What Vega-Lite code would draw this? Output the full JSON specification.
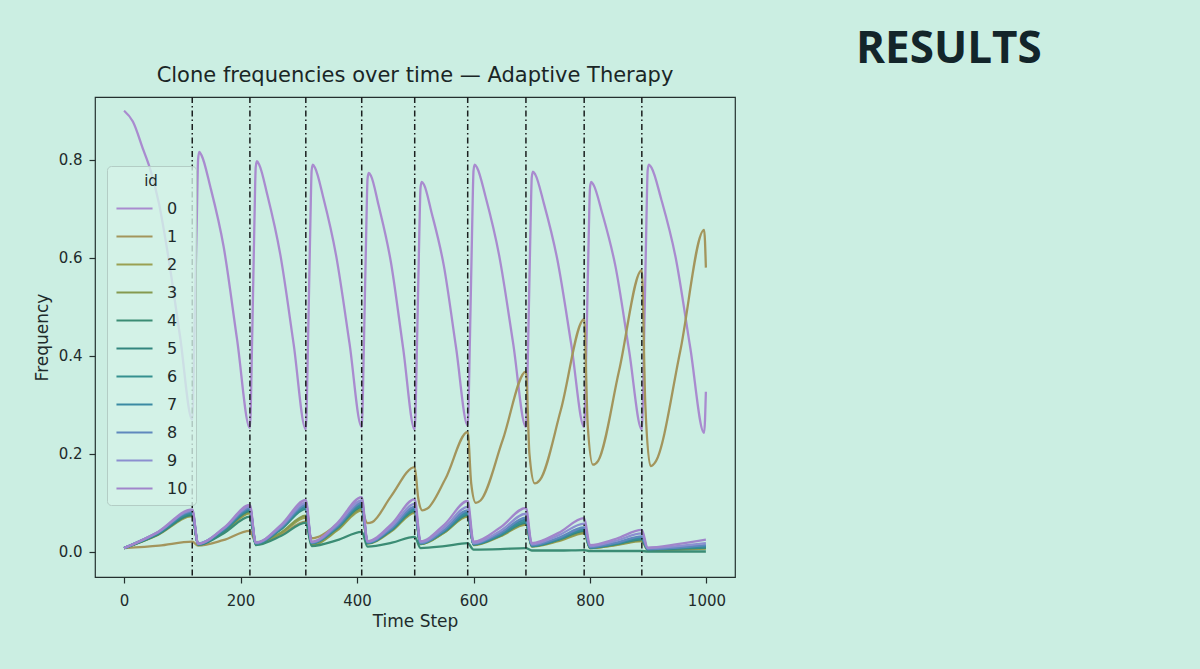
{
  "$schema": "https://vega.github.io/schema/vega-lite/v6.json",
  "description": "Clone frequencies over time under adaptive therapy, slide photo recreation",
  "background": "#cbeee2",
  "padding": {"left": 32, "top": 28, "right": 154, "bottom": 39},
  "spacing": 120,
  "config": {
    "font": "DejaVu Sans",
    "view": {"stroke": "#24302f", "strokeWidth": 1.2},
    "axis": {
      "domain": false, "grid": false,
      "tickColor": "#24302f", "tickSize": 6, "tickWidth": 1.2,
      "labelFont": "DejaVu Sans", "labelFontSize": 15, "labelColor": "#1e2b2b", "labelPadding": 7,
      "titleFont": "DejaVu Sans", "titleFontSize": 17, "titleFontWeight": "normal", "titleColor": "#1e2b2b", "titlePadding": 7
    },
    "axisX": {"labelPadding": 10, "titlePadding": 5},
    "legend": {
      "fillColor": "rgba(212,243,232,0.8)", "strokeColor": "#b3cdc5", "cornerRadius": 4, "padding": 8,
      "titleFont": "DejaVu Sans", "titleFontSize": 15, "titleFontWeight": "normal", "titleColor": "#1e2b2b", "titleAnchor": "middle", "titlePadding": 0,
      "labelFont": "DejaVu Sans", "labelFontSize": 16, "labelColor": "#1e2b2b", "labelOffset": 13,
      "symbolType": "stroke", "symbolSize": 1300, "symbolStrokeWidth": 2, "rowPadding": -1.2
    }
  },
  "datasets": {
    "switches": [
      {"t": 117}, {"t": 216}, {"t": 312}, {"t": 408}, {"t": 499}, {"t": 590}, {"t": 690}, {"t": 790}, {"t": 889}
    ],
    "clones": [
      {"id":0,"t":0,"f":0.9},{"id":0,"t":15,"f":0.878},{"id":0,"t":33,"f":0.82},{"id":0,"t":45,"f":0.78},{"id":0,"t":60,"f":0.71},{"id":0,"t":74,"f":0.616},{"id":0,"t":96,"f":0.44},{"id":0,"t":117,"f":0.27},
      {"id":0,"t":121,"f":0.46},{"id":0,"t":125,"f":0.69},{"id":0,"t":127,"f":0.8},{"id":0,"t":129,"f":0.816},
      {"id":0,"t":133,"f":0.809},{"id":0,"t":148,"f":0.745},{"id":0,"t":171,"f":0.622},{"id":0,"t":194,"f":0.433},{"id":0,"t":216,"f":0.253},
      {"id":0,"t":220,"f":0.443},{"id":0,"t":224,"f":0.688},{"id":0,"t":226,"f":0.785},{"id":0,"t":228,"f":0.797},
      {"id":0,"t":232,"f":0.79},{"id":0,"t":246,"f":0.728},{"id":0,"t":268,"f":0.608},{"id":0,"t":291,"f":0.425},{"id":0,"t":312,"f":0.25},
      {"id":0,"t":316,"f":0.439},{"id":0,"t":320,"f":0.682},{"id":0,"t":322,"f":0.778},{"id":0,"t":324,"f":0.79},
      {"id":0,"t":328,"f":0.783},{"id":0,"t":342,"f":0.723},{"id":0,"t":364,"f":0.605},{"id":0,"t":387,"f":0.426},{"id":0,"t":408,"f":0.255},
      {"id":0,"t":412,"f":0.436},{"id":0,"t":416,"f":0.669},{"id":0,"t":418,"f":0.761},{"id":0,"t":420,"f":0.773},
      {"id":0,"t":424,"f":0.767},{"id":0,"t":437,"f":0.707},{"id":0,"t":458,"f":0.592},{"id":0,"t":479,"f":0.417},{"id":0,"t":499,"f":0.25},
      {"id":0,"t":503,"f":0.427},{"id":0,"t":507,"f":0.654},{"id":0,"t":509,"f":0.743},{"id":0,"t":511,"f":0.755},
      {"id":0,"t":515,"f":0.749},{"id":0,"t":528,"f":0.692},{"id":0,"t":549,"f":0.584},{"id":0,"t":570,"f":0.417},{"id":0,"t":590,"f":0.258},
      {"id":0,"t":594,"f":0.444},{"id":0,"t":598,"f":0.684},{"id":0,"t":600,"f":0.778},{"id":0,"t":602,"f":0.79},
      {"id":0,"t":606,"f":0.784},{"id":0,"t":621,"f":0.723},{"id":0,"t":644,"f":0.605},{"id":0,"t":668,"f":0.426},{"id":0,"t":690,"f":0.255},
      {"id":0,"t":694,"f":0.437},{"id":0,"t":698,"f":0.672},{"id":0,"t":700,"f":0.764},{"id":0,"t":702,"f":0.776},
      {"id":0,"t":706,"f":0.77},{"id":0,"t":721,"f":0.71},{"id":0,"t":744,"f":0.596},{"id":0,"t":768,"f":0.422},{"id":0,"t":790,"f":0.255},
      {"id":0,"t":794,"f":0.43},{"id":0,"t":798,"f":0.655},{"id":0,"t":800,"f":0.743},{"id":0,"t":802,"f":0.755},
      {"id":0,"t":806,"f":0.749},{"id":0,"t":821,"f":0.691},{"id":0,"t":844,"f":0.581},{"id":0,"t":867,"f":0.412},{"id":0,"t":889,"f":0.25},
      {"id":0,"t":893,"f":0.439},{"id":0,"t":897,"f":0.682},{"id":0,"t":899,"f":0.778},{"id":0,"t":901,"f":0.79},
      {"id":0,"t":906,"f":0.783},{"id":0,"t":922,"f":0.721},{"id":0,"t":947,"f":0.601},{"id":0,"t":972,"f":0.418},{"id":0,"t":996,"f":0.243},{"id":0,"t":999,"f":0.327},

      {"id":1,"t":0,"f":0.008},{"id":1,"t":60,"f":0.013},{"id":1,"t":117,"f":0.021},{"id":1,"t":127,"f":0.013},{"id":1,"t":170,"f":0.024},{"id":1,"t":216,"f":0.043},
      {"id":1,"t":226,"f":0.02},{"id":1,"t":270,"f":0.036},{"id":1,"t":312,"f":0.062},{"id":1,"t":322,"f":0.028},{"id":1,"t":366,"f":0.056},{"id":1,"t":408,"f":0.1},
      {"id":1,"t":413,"f":0.07},{"id":1,"t":418,"f":0.059},{"id":1,"t":426,"f":0.061},{"id":1,"t":458,"f":0.113},{"id":1,"t":499,"f":0.173},
      {"id":1,"t":505,"f":0.11},{"id":1,"t":512,"f":0.085},{"id":1,"t":520,"f":0.088},{"id":1,"t":552,"f":0.15},{"id":1,"t":590,"f":0.245},
      {"id":1,"t":596,"f":0.14},{"id":1,"t":604,"f":0.1},{"id":1,"t":612,"f":0.105},{"id":1,"t":650,"f":0.228},{"id":1,"t":690,"f":0.368},
      {"id":1,"t":696,"f":0.2},{"id":1,"t":705,"f":0.14},{"id":1,"t":714,"f":0.147},{"id":1,"t":750,"f":0.29},{"id":1,"t":790,"f":0.475},
      {"id":1,"t":796,"f":0.26},{"id":1,"t":805,"f":0.178},{"id":1,"t":814,"f":0.186},{"id":1,"t":850,"f":0.37},{"id":1,"t":889,"f":0.575},
      {"id":1,"t":895,"f":0.3},{"id":1,"t":904,"f":0.175},{"id":1,"t":913,"f":0.185},{"id":1,"t":955,"f":0.41},{"id":1,"t":996,"f":0.657},{"id":1,"t":999,"f":0.58},

      {"id":2,"t":0,"f":0.008},{"id":2,"t":58,"f":0.035},{"id":2,"t":117,"f":0.073},{"id":2,"t":127,"f":0.015},{"id":2,"t":172,"f":0.042},{"id":2,"t":216,"f":0.079},
      {"id":2,"t":226,"f":0.016},{"id":2,"t":270,"f":0.039},{"id":2,"t":312,"f":0.07},{"id":2,"t":322,"f":0.014},{"id":2,"t":366,"f":0.044},{"id":2,"t":408,"f":0.085},
      {"id":2,"t":418,"f":0.017},{"id":2,"t":460,"f":0.043},{"id":2,"t":499,"f":0.08},{"id":2,"t":509,"f":0.016},{"id":2,"t":550,"f":0.04},{"id":2,"t":590,"f":0.072},
      {"id":2,"t":600,"f":0.014},{"id":2,"t":646,"f":0.032},{"id":2,"t":690,"f":0.056},{"id":2,"t":700,"f":0.011},{"id":2,"t":746,"f":0.022},{"id":2,"t":790,"f":0.038},
      {"id":2,"t":800,"f":0.008},{"id":2,"t":845,"f":0.014},{"id":2,"t":889,"f":0.022},{"id":2,"t":899,"f":0.004},{"id":2,"t":950,"f":0.005},{"id":2,"t":999,"f":0.007},

      {"id":3,"t":0,"f":0.008},{"id":3,"t":58,"f":0.036},{"id":3,"t":117,"f":0.075},{"id":3,"t":127,"f":0.015},{"id":3,"t":172,"f":0.043},{"id":3,"t":216,"f":0.081},
      {"id":3,"t":226,"f":0.016},{"id":3,"t":270,"f":0.04},{"id":3,"t":312,"f":0.074},{"id":3,"t":322,"f":0.015},{"id":3,"t":366,"f":0.046},{"id":3,"t":408,"f":0.088},
      {"id":3,"t":418,"f":0.018},{"id":3,"t":460,"f":0.045},{"id":3,"t":499,"f":0.082},{"id":3,"t":509,"f":0.016},{"id":3,"t":550,"f":0.04},{"id":3,"t":590,"f":0.074},
      {"id":3,"t":600,"f":0.015},{"id":3,"t":646,"f":0.033},{"id":3,"t":690,"f":0.058},{"id":3,"t":700,"f":0.012},{"id":3,"t":746,"f":0.024},{"id":3,"t":790,"f":0.04},
      {"id":3,"t":800,"f":0.008},{"id":3,"t":845,"f":0.015},{"id":3,"t":889,"f":0.024},{"id":3,"t":899,"f":0.005},{"id":3,"t":950,"f":0.006},{"id":3,"t":999,"f":0.008},

      {"id":4,"t":0,"f":0.008},{"id":4,"t":58,"f":0.036},{"id":4,"t":117,"f":0.075},{"id":4,"t":127,"f":0.015},{"id":4,"t":172,"f":0.039},{"id":4,"t":216,"f":0.072},
      {"id":4,"t":226,"f":0.014},{"id":4,"t":270,"f":0.033},{"id":4,"t":312,"f":0.06},{"id":4,"t":322,"f":0.012},{"id":4,"t":366,"f":0.024},{"id":4,"t":408,"f":0.041},
      {"id":4,"t":418,"f":0.011},{"id":4,"t":460,"f":0.019},{"id":4,"t":499,"f":0.031},{"id":4,"t":509,"f":0.008},{"id":4,"t":550,"f":0.012},{"id":4,"t":590,"f":0.018},
      {"id":4,"t":600,"f":0.005},{"id":4,"t":646,"f":0.006},{"id":4,"t":690,"f":0.008},{"id":4,"t":700,"f":0.003},{"id":4,"t":746,"f":0.003},{"id":4,"t":790,"f":0.004},
      {"id":4,"t":800,"f":0.002},{"id":4,"t":845,"f":0.002},{"id":4,"t":889,"f":0.002},{"id":4,"t":899,"f":0.001},{"id":4,"t":950,"f":0.001},{"id":4,"t":999,"f":0.001},

      {"id":5,"t":0,"f":0.008},{"id":5,"t":58,"f":0.037},{"id":5,"t":117,"f":0.077},{"id":5,"t":127,"f":0.015},{"id":5,"t":172,"f":0.044},{"id":5,"t":216,"f":0.084},
      {"id":5,"t":226,"f":0.017},{"id":5,"t":270,"f":0.047},{"id":5,"t":312,"f":0.088},{"id":5,"t":322,"f":0.018},{"id":5,"t":366,"f":0.049},{"id":5,"t":408,"f":0.092},
      {"id":5,"t":418,"f":0.018},{"id":5,"t":460,"f":0.046},{"id":5,"t":499,"f":0.084},{"id":5,"t":509,"f":0.017},{"id":5,"t":550,"f":0.042},{"id":5,"t":590,"f":0.076},
      {"id":5,"t":600,"f":0.015},{"id":5,"t":646,"f":0.034},{"id":5,"t":690,"f":0.06},{"id":5,"t":700,"f":0.012},{"id":5,"t":746,"f":0.025},{"id":5,"t":790,"f":0.043},
      {"id":5,"t":800,"f":0.009},{"id":5,"t":845,"f":0.016},{"id":5,"t":889,"f":0.026},{"id":5,"t":899,"f":0.005},{"id":5,"t":950,"f":0.007},{"id":5,"t":999,"f":0.009},

      {"id":6,"t":0,"f":0.008},{"id":6,"t":58,"f":0.038},{"id":6,"t":117,"f":0.079},{"id":6,"t":127,"f":0.016},{"id":6,"t":172,"f":0.045},{"id":6,"t":216,"f":0.086},
      {"id":6,"t":226,"f":0.017},{"id":6,"t":270,"f":0.048},{"id":6,"t":312,"f":0.09},{"id":6,"t":322,"f":0.018},{"id":6,"t":366,"f":0.05},{"id":6,"t":408,"f":0.094},
      {"id":6,"t":418,"f":0.019},{"id":6,"t":460,"f":0.047},{"id":6,"t":499,"f":0.086},{"id":6,"t":509,"f":0.017},{"id":6,"t":550,"f":0.043},{"id":6,"t":590,"f":0.078},
      {"id":6,"t":600,"f":0.016},{"id":6,"t":646,"f":0.035},{"id":6,"t":690,"f":0.062},{"id":6,"t":700,"f":0.012},{"id":6,"t":746,"f":0.026},{"id":6,"t":790,"f":0.045},
      {"id":6,"t":800,"f":0.009},{"id":6,"t":845,"f":0.017},{"id":6,"t":889,"f":0.028},{"id":6,"t":899,"f":0.006},{"id":6,"t":950,"f":0.008},{"id":6,"t":999,"f":0.01},

      {"id":7,"t":0,"f":0.008},{"id":7,"t":58,"f":0.039},{"id":7,"t":117,"f":0.081},{"id":7,"t":127,"f":0.016},{"id":7,"t":172,"f":0.046},{"id":7,"t":216,"f":0.088},
      {"id":7,"t":226,"f":0.018},{"id":7,"t":270,"f":0.05},{"id":7,"t":312,"f":0.093},{"id":7,"t":322,"f":0.019},{"id":7,"t":366,"f":0.052},{"id":7,"t":408,"f":0.097},
      {"id":7,"t":418,"f":0.019},{"id":7,"t":460,"f":0.048},{"id":7,"t":499,"f":0.089},{"id":7,"t":509,"f":0.018},{"id":7,"t":550,"f":0.044},{"id":7,"t":590,"f":0.081},
      {"id":7,"t":600,"f":0.016},{"id":7,"t":646,"f":0.037},{"id":7,"t":690,"f":0.066},{"id":7,"t":700,"f":0.013},{"id":7,"t":746,"f":0.027},{"id":7,"t":790,"f":0.047},
      {"id":7,"t":800,"f":0.009},{"id":7,"t":845,"f":0.018},{"id":7,"t":889,"f":0.03},{"id":7,"t":899,"f":0.006},{"id":7,"t":950,"f":0.009},{"id":7,"t":999,"f":0.012},

      {"id":8,"t":0,"f":0.008},{"id":8,"t":58,"f":0.04},{"id":8,"t":117,"f":0.083},{"id":8,"t":127,"f":0.017},{"id":8,"t":172,"f":0.048},{"id":8,"t":216,"f":0.09},
      {"id":8,"t":226,"f":0.018},{"id":8,"t":270,"f":0.051},{"id":8,"t":312,"f":0.096},{"id":8,"t":322,"f":0.019},{"id":8,"t":366,"f":0.053},{"id":8,"t":408,"f":0.1},
      {"id":8,"t":418,"f":0.02},{"id":8,"t":460,"f":0.05},{"id":8,"t":499,"f":0.092},{"id":8,"t":509,"f":0.018},{"id":8,"t":550,"f":0.046},{"id":8,"t":590,"f":0.085},
      {"id":8,"t":600,"f":0.017},{"id":8,"t":646,"f":0.039},{"id":8,"t":690,"f":0.07},{"id":8,"t":700,"f":0.014},{"id":8,"t":746,"f":0.029},{"id":8,"t":790,"f":0.05},
      {"id":8,"t":800,"f":0.01},{"id":8,"t":845,"f":0.019},{"id":8,"t":889,"f":0.032},{"id":8,"t":899,"f":0.006},{"id":8,"t":950,"f":0.009},{"id":8,"t":999,"f":0.014},

      {"id":9,"t":0,"f":0.008},{"id":9,"t":58,"f":0.04},{"id":9,"t":117,"f":0.085},{"id":9,"t":127,"f":0.017},{"id":9,"t":172,"f":0.049},{"id":9,"t":216,"f":0.093},
      {"id":9,"t":226,"f":0.019},{"id":9,"t":270,"f":0.053},{"id":9,"t":312,"f":0.1},{"id":9,"t":322,"f":0.02},{"id":9,"t":366,"f":0.056},{"id":9,"t":408,"f":0.105},
      {"id":9,"t":418,"f":0.021},{"id":9,"t":460,"f":0.053},{"id":9,"t":499,"f":0.098},{"id":9,"t":509,"f":0.02},{"id":9,"t":550,"f":0.05},{"id":9,"t":590,"f":0.092},
      {"id":9,"t":600,"f":0.018},{"id":9,"t":646,"f":0.043},{"id":9,"t":690,"f":0.078},{"id":9,"t":700,"f":0.016},{"id":9,"t":746,"f":0.034},{"id":9,"t":790,"f":0.058},
      {"id":9,"t":800,"f":0.012},{"id":9,"t":845,"f":0.023},{"id":9,"t":889,"f":0.038},{"id":9,"t":899,"f":0.008},{"id":9,"t":950,"f":0.012},{"id":9,"t":999,"f":0.018},

      {"id":10,"t":0,"f":0.008},{"id":10,"t":58,"f":0.041},{"id":10,"t":117,"f":0.087},{"id":10,"t":127,"f":0.017},{"id":10,"t":172,"f":0.05},{"id":10,"t":216,"f":0.096},
      {"id":10,"t":226,"f":0.019},{"id":10,"t":270,"f":0.056},{"id":10,"t":312,"f":0.106},{"id":10,"t":322,"f":0.021},{"id":10,"t":366,"f":0.059},{"id":10,"t":408,"f":0.112},
      {"id":10,"t":418,"f":0.022},{"id":10,"t":460,"f":0.058},{"id":10,"t":499,"f":0.108},{"id":10,"t":509,"f":0.022},{"id":10,"t":550,"f":0.056},{"id":10,"t":590,"f":0.104},
      {"id":10,"t":600,"f":0.021},{"id":10,"t":646,"f":0.05},{"id":10,"t":690,"f":0.09},{"id":10,"t":700,"f":0.018},{"id":10,"t":746,"f":0.039},{"id":10,"t":790,"f":0.069},
      {"id":10,"t":800,"f":0.014},{"id":10,"t":845,"f":0.027},{"id":10,"t":889,"f":0.045},{"id":10,"t":899,"f":0.009},{"id":10,"t":950,"f":0.016},{"id":10,"t":999,"f":0.025}
    ]
  },
  "hconcat": [
    {
      "title": {"text": "Clone frequencies over time — Adaptive Therapy", "font": "DejaVu Sans", "fontSize": 21, "fontWeight": "normal", "color": "#1a2626", "offset": 10},
      "width": 640,
      "height": 480,
      "layer": [
        {
          "data": {"name": "clones"},
          "mark": {"type": "line", "strokeWidth": 2.3, "interpolate": "monotone", "clip": true},
          "encoding": {
            "x": {"field": "t", "type": "quantitative", "scale": {"domain": [-50, 1049], "nice": false, "zero": false}, "axis": {"values": [0, 200, 400, 600, 800, 1000], "format": "d", "title": "Time Step"}},
            "y": {"field": "f", "type": "quantitative", "scale": {"domain": [-0.051, 0.928], "nice": false, "zero": false}, "axis": {"values": [0, 0.2, 0.4, 0.6, 0.8], "format": ".1f", "title": "Frequency"}},
            "color": {
              "field": "id", "type": "ordinal",
              "scale": {"domain": [0, 1, 2, 3, 4, 5, 6, 7, 8, 9, 10], "range": ["#a98bcf", "#a3955c", "#9aa052", "#85994f", "#3b8c74", "#33857f", "#35908f", "#3a8aa3", "#5f88bd", "#8c8fd0", "#a185cb"]},
              "legend": {"title": "id", "orient": "none", "legendX": 12, "legendY": 69}
            }
          }
        },
        {
          "data": {"name": "switches"},
          "mark": {"type": "rule", "color": "#1b1f1f", "strokeWidth": 1.5, "strokeDash": [6, 3, 1.5, 3]},
          "encoding": {"x": {"field": "t", "type": "quantitative"}}
        }
      ]
    },
    {
      "title": {"text": "RESULTS", "font": "Open Sans", "fontSize": 44, "fontWeight": "bold", "color": "#13252a", "anchor": "start", "offset": 25},
      "width": 190,
      "height": 480,
      "view": {"stroke": null},
      "data": {"values": [{"label": ""}]},
      "mark": {"type": "text"},
      "encoding": {"text": {"field": "label", "type": "nominal"}}
    }
  ]
}
